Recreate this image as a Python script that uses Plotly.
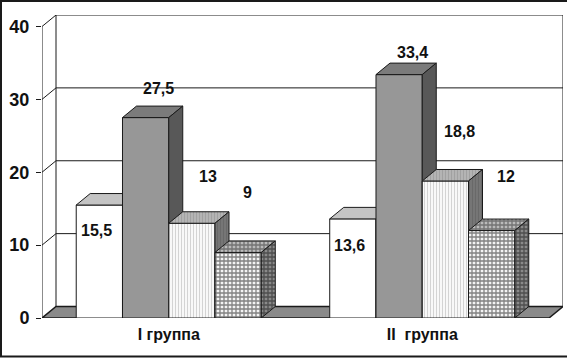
import plotly.graph_objects as go

# ---------------- data ----------------
categories = ["I группа", "II\u00a0 группа"]
series_white = [15.5, 13.6]
series_gray = [27.5, 33.4]
series_stripes = [13.0, 18.8]
series_checker = [9.0, 12.0]
y_ticks = [0, 10, 20, 30, 40]

# ---------------- geometry (style) ----------------
W, H = 567, 358
ML, MT = 42, 15
PLOT_H = 303
MB = H - MT - PLOT_H
CW = 253.5                 # px per category
DX_PX, DY_PX = 14.0, 11.5  # 3-D depth offset in px
YMAX = 40
YS = (PLOT_H - DY_PX) / YMAX   # px per y unit
PLOT_W = 2 * CW + DX_PX
MR = W - ML - PLOT_W
DXD = DX_PX / CW
DYD = DY_PX / YS
GROUP_FRAC = 0.73
N_SER = 4
BW = GROUP_FRAC / N_SER

LINE = dict(color="#1a1a1a", width=1)
FONT = "Liberation Sans, Arial, sans-serif"

series_list = [series_white, series_gray, series_stripes, series_checker]
styles = [
    dict(front=dict(fillcolor="#ffffff"),
         top=dict(fillcolor="#c4c4c4"),
         side=dict(fillcolor="#858585")),
    dict(front=dict(fillcolor="#979797"),
         top=dict(fillcolor="#7b7b7b"),
         side=dict(fillcolor="#585858")),
    dict(front=dict(fillcolor="#ffffff",
                    fillpattern=dict(shape="|", fgcolor="#a8a8a8", bgcolor="#ffffff", size=3, solidity=0.45)),
         top=dict(fillcolor="#b0b0b0",
                  fillpattern=dict(shape="|", fgcolor="#8a8a8a", bgcolor="#b8b8b8", size=3, solidity=0.45)),
         side=dict(fillcolor="#707070",
                   fillpattern=dict(shape="|", fgcolor="#5a5a5a", bgcolor="#787878", size=3, solidity=0.45))),
    dict(front=dict(fillcolor="#888888",
                    fillpattern=dict(shape="+", fgcolor="#111111", bgcolor="#f4f4f4", size=4, solidity=0.55)),
         top=dict(fillcolor="#888888",
                  fillpattern=dict(shape="+", fgcolor="#2a2a2a", bgcolor="#bbbbbb", size=4, solidity=0.55)),
         side=dict(fillcolor="#555555",
                   fillpattern=dict(shape="+", fgcolor="#111111", bgcolor="#8a8a8a", size=4, solidity=0.55))),
]

# label offsets in px (dx, dy up) relative to (bar centre, value)
label_shifts = [
    [(-2.5, -25.5), (-3, -26.7)],
    [(12.5, 29.4), (13, 22.5)],
    [(16, 46.6), (14, 49.5)],
    [(9, 59.7), (14.5, 53.9)],
]

fig = go.Figure()

xl_wall = -0.5
xr_front = len(categories) - 0.5

# floor
fig.add_trace(go.Scatter(
    x=[xl_wall, xl_wall + DXD, xr_front + DXD, xr_front, xl_wall],
    y=[0, DYD, DYD, 0, 0],
    mode="lines", fill="toself", fillcolor="#8a8a8a",
    line=dict(color="#1a1a1a", width=1.5), hoverinfo="skip",
    showlegend=False, cliponaxis=False))

# walls & gridlines
wx, wy = [], []
for t in y_ticks[1:]:
    wx += [xl_wall, xl_wall + DXD, xr_front + DXD, None]
    wy += [t, t + DYD, t + DYD, None]
wx += [xl_wall + DXD, xl_wall + DXD, None, xr_front + DXD, xr_front + DXD, None, xl_wall, xl_wall, None]
wy += [DYD, YMAX + DYD, None, DYD, YMAX + DYD, None, 0, YMAX, None]
fig.add_trace(go.Scatter(x=wx, y=wy, mode="lines", line=LINE,
                         hoverinfo="skip", showlegend=False, cliponaxis=False))


def face(xs, ys, st):
    fig.add_trace(go.Scatter(x=xs + [xs[0]], y=ys + [ys[0]], mode="lines",
                             fill="toself", line=LINE, hoverinfo="skip",
                             showlegend=False, cliponaxis=False, **st))


annotations = []
for ci in range(len(categories)):
    for si, ser in enumerate(series_list):
        v = ser[ci]
        xl = ci - GROUP_FRAC / 2 + si * BW
        xr = xl + BW
        st = styles[si]
        face([xl, xr, xr, xl], [0, 0, v, v], st["front"])
        face([xl, xr, xr + DXD, xl + DXD], [v, v, v + DYD, v + DYD], st["top"])
        face([xr, xr + DXD, xr + DXD, xr], [0, DYD, v + DYD, v], st["side"])
        dx, dy = label_shifts[si][ci]
        annotations.append(dict(
            x=(xl + xr) / 2, y=v, xref="x", yref="y",
            text=f"{v:g}".replace(".", ","), showarrow=False,
            xshift=dx, yshift=dy, xanchor="center", yanchor="middle",
            font=dict(family=FONT, size=16, color="#111111", weight="bold")))

# outer frame (px -> paper)
def px_x(p):
    return (p - ML) / PLOT_W


def px_y(p):
    return 1 - (p - MT) / PLOT_H


shapes = [dict(type="rect", xref="paper", yref="paper",
               x0=px_x(1), x1=px_x(572), y0=px_y(1), y1=px_y(356.5),
               line=dict(color="#1a1a1a", width=2), layer="above")]

fig.update_layout(
    width=W, height=H,
    margin=dict(l=ML, r=MR, t=MT, b=MB, pad=0),
    paper_bgcolor="#ffffff", plot_bgcolor="#ffffff",
    showlegend=False,
    annotations=annotations,
    shapes=shapes,
    xaxis=dict(range=[xl_wall, xr_front + DXD], tickmode="array",
               tickvals=list(range(len(categories))), ticktext=categories,
               showgrid=False, zeroline=False, showline=False, ticks="",
               tickfont=dict(family=FONT, size=16, color="#111111", weight="bold"),
               ticklabelstandoff=5, fixedrange=True),
    yaxis=dict(range=[0, YMAX + DYD], tickmode="array", tickvals=y_ticks,
               ticktext=[str(t) for t in y_ticks],
               showgrid=False, zeroline=False, showline=False,
               ticks="outside", ticklen=5, tickcolor="#1a1a1a", tickwidth=1,
               tickfont=dict(family=FONT, size=18, color="#111111", weight="bold"),
               ticklabelstandoff=3, fixedrange=True),
)

fig.write_html("out.html", config={"displayModeBar": False},
               post_script="document.body.style.margin='0';document.body.style.overflow='hidden';")
